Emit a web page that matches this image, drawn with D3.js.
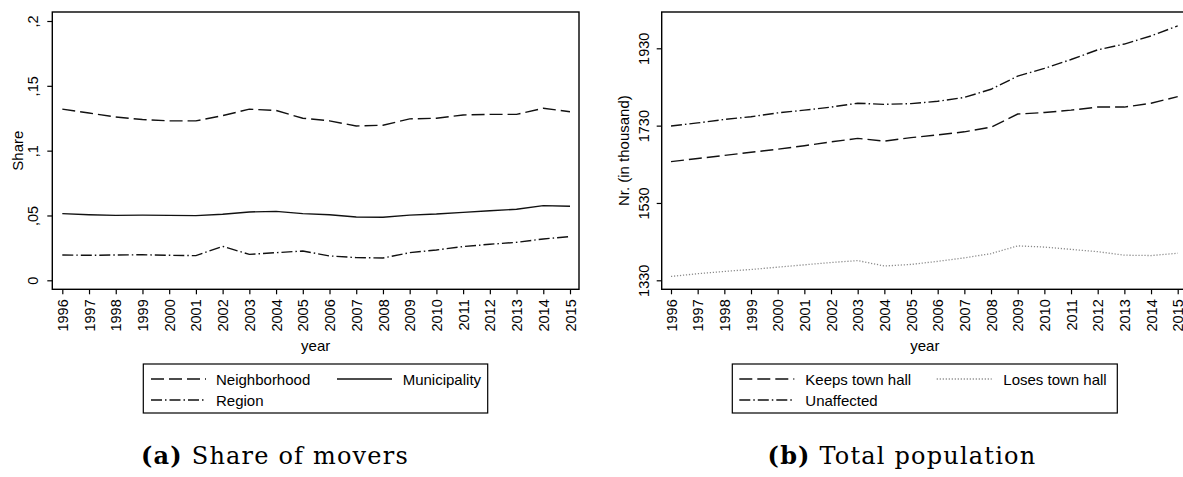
<!DOCTYPE html>
<html lang="en">
<head>
    <meta charset="UTF-8">
    <title>Share of movers and total population</title>
    <script src="https://d3js.org/d3.v7.min.js"></script>
    <style>
        body {
            margin: 0;
            padding: 0;
            background-color: #fff;
        }
        svg {
            display: block;
        }
        svg text {
            font-family: "Liberation Sans", Arial, sans-serif;
            font-size: 15px;
            fill: #000;
        }
        svg .tick text {
            font-size: 14.5px;
        }
        svg text.caption {
            font-family: "DejaVu Serif", "Liberation Serif", serif;
            font-size: 24px;
            letter-spacing: 1.2px;
        }
    </style>
</head>
<body>
    <svg width="1183" height="477"></svg>
    <script>
        // Data
        const years = [1996, 1997, 1998, 1999, 2000, 2001, 2002, 2003, 2004, 2005,
                       2006, 2007, 2008, 2009, 2010, 2011, 2012, 2013, 2014, 2015];

        // (a) Share of movers
        const neighborhood = [0.132, 0.129, 0.126, 0.124, 0.123, 0.123, 0.127, 0.132, 0.131, 0.125,
                              0.123, 0.119, 0.1196, 0.1245, 0.125, 0.1275, 0.128, 0.128, 0.1327, 0.130];
        const municipality = [0.0514, 0.0506, 0.0501, 0.0503, 0.0501, 0.0499, 0.0509, 0.0527, 0.0532, 0.0514,
                              0.0506, 0.0488, 0.0486, 0.0503, 0.0511, 0.0524, 0.0537, 0.0548, 0.0576, 0.0571];
        const region = [0.0195, 0.0193, 0.0195, 0.0197, 0.0193, 0.019, 0.0262, 0.020, 0.0213, 0.0226,
                        0.0188, 0.0175, 0.0172, 0.0213, 0.0234, 0.026, 0.0278, 0.0293, 0.0319, 0.0337];
        const shareTicks = [0, 0.05, 0.1, 0.15, 0.2];
        const shareTickLabels = ["0", ",05", ",1", ",15", ",2"];

        // (b) Total population (in thousand)
        const keepsTownHall = [1637, 1645, 1653, 1661, 1669, 1678, 1688, 1697, 1690, 1699,
                               1706, 1714, 1726, 1760, 1764, 1770, 1778, 1778, 1788, 1805];
        const losesTownHall = [1340, 1347, 1353, 1358, 1364, 1370, 1376, 1381, 1367, 1371,
                               1379, 1388, 1399, 1419, 1416, 1410, 1404, 1395, 1394, 1400];
        const unaffected = [1729, 1737, 1746, 1753, 1763, 1770, 1778, 1788, 1785, 1787,
                            1793, 1803, 1824, 1858, 1878, 1901, 1926, 1941, 1962, 1988];
        const popTicks = [1330, 1530, 1730, 1930];

        const svg = d3.select("svg");

        const styles = {
            dash: { dash: "13,5", color: "#111" },
            solid: { dash: null, color: "#111" },
            dashdot: { dash: "11,3,1.5,3", color: "#111" },
            dot: { dash: "1.2,1.8", color: "#8a8a8a" }
        };

        function drawPanel(p) {
            const x = d3.scaleLinear().domain([1996, 2015]).range(p.xRange);
            const y = d3.scaleLinear().domain(p.yDomain).range(p.yRange);
            const g = svg.append("g");

            // plot region border
            g.append("rect")
                .attr("x", p.box[0]).attr("y", p.box[1])
                .attr("width", p.box[2] - p.box[0]).attr("height", p.box[3] - p.box[1])
                .attr("fill", "none").attr("stroke", "#000").attr("stroke-width", 1.4);

            // y axis
            const ya = g.append("g")
                .attr("transform", `translate(${p.box[0]},0)`)
                .call(d3.axisLeft(y).tickValues(p.yTicks).tickSize(5)
                    .tickFormat((d, i) => p.yLabels ? p.yLabels[i] : d))
                .attr("font-family", null).attr("font-size", null);
            ya.select(".domain").remove();
            ya.selectAll("line").attr("stroke-width", 1.2);
            ya.selectAll("text")
                .attr("x", 0).attr("dy", 0)
                .attr("text-anchor", "middle")
                .attr("transform", `translate(${p.yLabelOffset},0) rotate(-90)`);

            // x axis
            const xa = g.append("g")
                .attr("transform", `translate(0,${p.box[3]})`)
                .call(d3.axisBottom(x).tickValues(years).tickSize(5).tickFormat(d3.format("d")))
                .attr("font-family", null).attr("font-size", null);
            xa.select(".domain").remove();
            xa.selectAll("line").attr("stroke-width", 1.2);
            xa.selectAll("text")
                .attr("x", -10).attr("y", 0).attr("dy", "0.35em")
                .attr("text-anchor", "end")
                .attr("transform", "rotate(-90)");

            // axis titles
            g.append("text")
                .attr("transform", `translate(${p.yTitleX},${(p.box[1] + p.box[3]) / 2}) rotate(-90)`)
                .attr("text-anchor", "middle")
                .text(p.yTitle);
            g.append("text")
                .attr("x", (p.box[0] + p.box[2]) / 2).attr("y", 351)
                .attr("text-anchor", "middle")
                .text("year");

            // series
            const line = d3.line().x((d, i) => x(years[i])).y(d => y(d));
            p.series.forEach(s => {
                g.append("path")
                    .datum(s.values)
                    .attr("d", line)
                    .attr("fill", "none")
                    .attr("stroke", styles[s.style].color)
                    .attr("stroke-width", s.style === "dot" ? 1.3 : 1.4)
                    .attr("stroke-dasharray", styles[s.style].dash);
            });

            // legend
            const L = p.legend;
            g.append("rect")
                .attr("x", L.x0).attr("y", 364)
                .attr("width", L.x1 - L.x0).attr("height", 49)
                .attr("fill", "none").attr("stroke", "#000").attr("stroke-width", 1.2);
            L.items.forEach(it => {
                const s = p.series[it.idx];
                const yy = it.row === 0 ? 379 : 400;
                g.append("line")
                    .attr("x1", it.sx).attr("x2", it.sx + 55)
                    .attr("y1", yy).attr("y2", yy)
                    .attr("stroke", styles[s.style].color)
                    .attr("stroke-width", 1.4)
                    .attr("stroke-dasharray", styles[s.style].dash);
                g.append("text")
                    .attr("x", it.tx).attr("y", yy + 5.5)
                    .text(s.name);
            });

            // caption
            const cap = g.append("text")
                .attr("class", "caption")
                .attr("x", p.captionX).attr("y", 464)
                .attr("text-anchor", "middle");
            cap.append("tspan").attr("font-weight", "bold").text(p.captionTag);
            cap.append("tspan").text(" " + p.caption);
        }

        drawPanel({
            box: [52.3, 12, 579, 289.3],
            xRange: [62.3, 570],
            yDomain: [0, 0.2],
            yRange: [280.3, 21],
            yTicks: shareTicks,
            yLabels: shareTickLabels,
            yLabelOffset: -14.3,
            yTitle: "Share",
            yTitleX: 23,
            series: [
                { name: "Neighborhood", values: neighborhood, style: "dash" },
                { name: "Municipality", values: municipality, style: "solid" },
                { name: "Region", values: region, style: "dashdot" }
            ],
            legend: {
                x0: 143.3, x1: 487.7,
                items: [
                    { idx: 0, row: 0, sx: 151, tx: 216 },
                    { idx: 1, row: 0, sx: 337, tx: 402.7 },
                    { idx: 2, row: 1, sx: 151, tx: 216 }
                ]
            },
            captionX: 275,
            captionTag: "(a)",
            caption: "Share of movers"
        });

        drawPanel({
            box: [661.7, 12, 1188, 289.3],
            xRange: [671, 1177.7],
            yDomain: [1330, 1930],
            yRange: [280.3, 48.3],
            yTicks: popTicks,
            yLabels: null,
            yLabelOffset: -12.4,
            yTitle: "Nr. (in thousand)",
            yTitleX: 629,
            series: [
                { name: "Keeps town hall", values: keepsTownHall, style: "dash" },
                { name: "Loses town hall", values: losesTownHall, style: "dot" },
                { name: "Unaffected", values: unaffected, style: "dashdot" }
            ],
            legend: {
                x0: 732.3, x1: 1117.3,
                items: [
                    { idx: 0, row: 0, sx: 739.3, tx: 805.3 },
                    { idx: 1, row: 0, sx: 936.7, tx: 1003.3 },
                    { idx: 2, row: 1, sx: 739.3, tx: 805.3 }
                ]
            },
            captionX: 902,
            captionTag: "(b)",
            caption: "Total population"
        });
    </script>
</body>
</html>
